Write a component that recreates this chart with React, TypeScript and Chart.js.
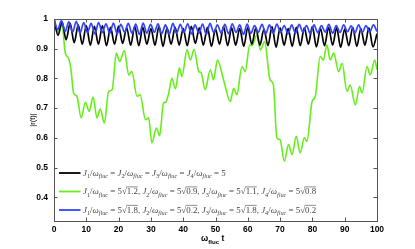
import React, { useEffect, useRef } from "react";
import { Chart, registerables } from "chart.js";
Chart.register(...registerables);

const xTicks = [0, 10, 20, 30, 40, 50, 60, 70, 80, 90, 100];
const yTicks = [0.4, 0.5, 0.6, 0.7, 0.8, 0.9, 1];
const yMin = 0.32;
const yMax = 1;

const blackT = [0,1.25,2.5,3.75,5,6.25,7.5,8.75,10,11.25,12.5,13.75,15,16.25,17.5,18.75,20,21.25,22.5,23.75,25,26.25,27.5,28.75,30,31.25,32.5,33.75,35,36.25,37.5,38.75,40,41.25,42.5,43.75,45,46.25,47.5,48.75,50,51.25,52.5,53.75,55,56.25,57.5,58.75,60,61.25,62.5,63.75,65,66.25,67.5,68.75,70,71.25,72.5,73.75,75,76.25,77.5,78.75,80,81.25,82.5,83.75,85,86.25,87.5,88.75,90,91.25,92.5,93.75,95,96.25,97.5,98.75,100];
const blackR = [1, 0.945,0.99, 0.93,0.985, 0.92,0.98, 0.915,0.978, 0.912,0.975, 0.915,0.978, 0.91,0.972, 0.915,0.976, 0.918,0.97, 0.912,0.975, 0.91,0.972, 0.915,0.968, 0.912,0.975, 0.908,0.97, 0.915,0.972, 0.912,0.968, 0.91,0.975, 0.918,0.97, 0.912,0.972, 0.908,0.966, 0.915,0.974, 0.91,0.97, 0.912,0.968, 0.908,0.972, 0.915,0.97, 0.912,0.966, 0.91,0.974, 0.905,0.97, 0.912,0.968, 0.908,0.972, 0.91,0.97, 0.915,0.974, 0.906,0.968, 0.91,0.972, 0.912,0.97, 0.905,0.966, 0.91,0.972, 0.908,0.968, 0.912,0.97, 0.906,0.95];

const greenT = [0,0.9,2.5,3.5,4.5,5.2,6.1,7.1,8.4,9.7,10.9,12.1,13.3,14.3,15.6,16.9,18,19.3,20.3,21.8,23.1,24.1,25.7,26.7,28.3,29.3,30.3,31.7,32.7,33.9,34.6,35.5,36.5,37.6,38.8,39.6,41.2,42.2,43.4,44.8,45.5,46.8,48.4,49.4,50.6,52.5,54.6,55.6,56.6,58.2,59.2,60.6,61.3,62.8,63.9,65.2,66.9,67.9,69,70,71.3,72.6,73.7,75,76.2,77.5,78.3,79.9,80.9,82.4,83.4,84.5,85.5,86.6,88.1,89.2,90.7,91.7,93.3,94.6,95.4,96.9,97.9,99.3,100];
const greenR = [1,0.957,0.98,0.885,0.868,0.835,0.75,0.74,0.667,0.72,0.689,0.737,0.667,0.697,0.65,0.756,0.762,0.885,0.857,0.894,0.812,0.823,0.74,0.745,0.661,0.667,0.583,0.633,0.607,0.717,0.72,0.75,0.8,0.765,0.835,0.806,0.896,0.862,0.898,0.823,0.82,0.762,0.829,0.795,0.862,0.795,0.722,0.767,0.745,0.84,0.823,0.913,0.91,0.946,0.896,0.924,0.795,0.78,0.6,0.594,0.521,0.577,0.544,0.605,0.549,0.6,0.588,0.722,0.74,0.874,0.862,0.913,0.862,0.885,0.823,0.851,0.756,0.778,0.711,0.773,0.751,0.84,0.812,0.862,0.829];

const blueT = [0,1.15,2.3,3.45,4.6,5.75,6.9,8.05,9.2,10.35,11.5,12.65,13.8,14.95,16.1,17.25,18.4,19.55,20.7,21.85,23,24.15,25.3,26.45,27.6,28.75,29.9,31.05,32.2,33.35,34.5,35.65,36.8,37.95,39.1,40.25,41.4,42.55,43.7,44.85,46,47.15,48.3,49.45,50.6,51.75,52.9,54.05,55.2,56.35,57.5,58.65,59.8,60.95,62.1,63.25,64.4,65.55,66.7,67.85,69,70.15,71.3,72.45,73.6,74.75,75.9,77.05,78.2,79.35,80.5,81.65,82.8,83.95,85.1,86.25,87.4,88.55,89.7,90.85,92,93.15,94.3,95.45,96.6,97.75,98.9,100];
const blueR = [1, 0.965,0.995, 0.958,0.99, 0.955,0.992, 0.952,0.988, 0.955,0.985, 0.95,0.988, 0.955,0.984, 0.952,0.986, 0.95,0.982, 0.955,0.985, 0.952,0.983, 0.948,0.986, 0.952,0.982, 0.955,0.984, 0.95,0.98, 0.948,0.985, 0.952,0.982, 0.955,0.984, 0.95,0.98, 0.952,0.983, 0.948,0.985, 0.955,0.98, 0.952,0.982, 0.95,0.984, 0.955,0.98, 0.948,0.983, 0.952,0.978, 0.955,0.982, 0.95,0.98, 0.952,0.983, 0.955,0.978, 0.95,0.98, 0.952,0.982, 0.956,0.978, 0.95,0.98, 0.954,0.978, 0.956,0.982, 0.952,0.978, 0.955,0.98, 0.957,0.977, 0.952,0.98, 0.955,0.978, 0.956,0.98, 0.958];

const seriesColors = ["#000000", "#66ee1a", "#3344ff"];
const greenRoots = ["1.2", "0.9", "1.1", "0.8"];
const blueRoots = ["1.8", "0.2", "1.8", "0.2"];

type Seg = { s: string; sub?: boolean; it?: boolean; over?: boolean };

function jPart(n: number): Seg[] {
  return [
    { s: "J", it: true },
    { s: String(n), sub: true },
    { s: "/" },
    { s: "ω", it: true },
    { s: "fluc", sub: true, it: true },
    { s: " = " },
  ];
}

function rowEqual(): Seg[] {
  const out: Seg[] = [];
  for (let i = 1; i <= 4; i++) out.push(...jPart(i));
  out.push({ s: "5" });
  return out;
}

function rowRoots(roots: string[]): Seg[] {
  const out: Seg[] = [];
  roots.forEach((r, i) => {
    out.push(...jPart(i + 1));
    out.push({ s: "5√" });
    out.push({ s: r, over: true });
    if (i < roots.length - 1) out.push({ s: ", " });
  });
  return out;
}

const legendRows: Seg[][] = [rowEqual(), rowRoots(greenRoots), rowRoots(blueRoots)];

function drawRich(ctx: CanvasRenderingContext2D, segs: Seg[], x: number, y: number, size: number, family: string) {
  for (const g of segs) {
    const fs = g.sub ? size * 0.7 : size;
    ctx.font = `${g.it ? "italic " : ""}${fs}px ${family}`;
    const dy = g.sub ? size * 0.3 : 0;
    ctx.fillText(g.s, x, y + dy);
    const w = ctx.measureText(g.s).width;
    if (g.over) {
      ctx.beginPath();
      ctx.lineWidth = 0.6;
      ctx.moveTo(x - 0.5, y - size * 0.82);
      ctx.lineTo(x + w, y - size * 0.82);
      ctx.stroke();
    }
    x += w;
  }
  return x;
}

function measureRich(ctx: CanvasRenderingContext2D, segs: Seg[], size: number, family: string, bold = false) {
  let w = 0;
  for (const g of segs) {
    const fs = g.sub ? size * 0.7 : size;
    ctx.font = `${bold ? "bold " : ""}${g.it ? "italic " : ""}${fs}px ${family}`;
    w += ctx.measureText(g.s).width;
  }
  return w;
}

const framePlugin = {
  id: "matlabFrame",
  afterDatasetsDraw(chart: any) {
    const { ctx, chartArea } = chart;
    const { left, right, top, bottom } = chartArea;
    const xs = chart.scales.x;
    const ys = chart.scales.y;
    ctx.save();
    ctx.strokeStyle = "#555";
    ctx.lineWidth = 1;
    ctx.strokeRect(Math.round(left) + 0.5, Math.round(top) + 0.5, Math.round(right - left), Math.round(bottom - top));
    ctx.beginPath();
    const tl = 3.5;
    for (const v of xTicks) {
      const px = Math.round(xs.getPixelForValue(v)) + 0.5;
      ctx.moveTo(px, bottom);
      ctx.lineTo(px, bottom - tl);
      ctx.moveTo(px, top);
      ctx.lineTo(px, top + tl);
    }
    for (const v of yTicks) {
      const py = Math.round(ys.getPixelForValue(v)) + 0.5;
      ctx.moveTo(left, py);
      ctx.lineTo(left + tl, py);
      ctx.moveTo(right, py);
      ctx.lineTo(right - tl, py);
    }
    ctx.stroke();

    // legend
    const fam = '"Liberation Serif", "DejaVu Serif", serif';
    const size = 8.9;
    const rowY = [bottom - 48, bottom - 29.5, bottom - 11];
    legendRows.forEach((segs, i) => {
      const y = rowY[i];
      ctx.strokeStyle = seriesColors[i];
      ctx.lineWidth = 1.8;
      ctx.beginPath();
      ctx.moveTo(left + 5, y);
      ctx.lineTo(left + 26.5, y);
      ctx.stroke();
      ctx.fillStyle = "#444";
      ctx.strokeStyle = "#444";
      ctx.textBaseline = "alphabetic";
      drawRich(ctx, segs, left + 29, y + size * 0.3, size, fam);
    });

    // x title
    const sans = '"Liberation Sans", Arial, sans-serif';
    const xt: Seg[] = [{ s: "ω" }, { s: "fluc", sub: true }, { s: " t" }];
    const tw = measureRich(ctx, xt, 8.5, sans, true);
    let cx = (left + right) / 2 - tw / 2 - 3;
    ctx.fillStyle = "#000";
    const by = bottom + 20;
    for (const g of xt) {
      const fs = g.sub ? 8.5 * 0.72 : 8.5;
      ctx.font = `bold ${fs}px ${sans}`;
      ctx.fillText(g.s, cx, by + (g.sub ? 3 : 0));
      cx += ctx.measureText(g.s).width;
    }

    // y title
    ctx.save();
    ctx.translate(left - 21, (top + bottom) / 2);
    ctx.rotate(-Math.PI / 2);
    ctx.textAlign = "center";
    ctx.textBaseline = "middle";
    ctx.font = `7.5px ${sans}`;
    ctx.fillText("|r(t)|", 0, 0);
    ctx.restore();
    ctx.restore();
  },
};

function pts(t: number[], r: number[]) {
  const n = Math.min(t.length, r.length);
  const out: { x: number; y: number }[] = [];
  for (let i = 0; i < n; i++) out.push({ x: t[i], y: r[i] });
  return out;
}

export default function App() {
  const ref = useRef<HTMLCanvasElement | null>(null);
  useEffect(() => {
    document.body.style.margin = "0";
    const canvas = ref.current!;
    const tickFont = { family: '"Liberation Sans", Arial, sans-serif', size: 8.5, weight: "bold" as const };
    const chart = new Chart(canvas, {
      type: "line",
      data: {
        datasets: [
          { label: "black", data: pts(blackT, blackR), borderColor: seriesColors[0], borderWidth: 1.7, pointRadius: 0, cubicInterpolationMode: "monotone", order: 1 },
          { label: "green", data: pts(greenT, greenR), borderColor: seriesColors[1], borderWidth: 1.6, pointRadius: 0, cubicInterpolationMode: "monotone", order: 2 },
          { label: "blue", data: pts(blueT, blueR), borderColor: seriesColors[2], borderWidth: 1.7, pointRadius: 0, cubicInterpolationMode: "monotone", order: 0 },
        ],
      },
      options: {
        animation: false,
        responsive: false,
        devicePixelRatio: 1,
        layout: { padding: { left: 0, right: 38, top: 19, bottom: 0 } },
        plugins: { legend: { display: false }, tooltip: { enabled: false } },
        scales: {
          x: {
            type: "linear",
            min: 0,
            max: 100,
            grid: { display: false, drawTicks: false },
            border: { display: false },
            afterBuildTicks: (s: any) => { s.ticks = xTicks.map((v) => ({ value: v })); },
            afterFit: (s: any) => { s.height = 28; },
            ticks: { color: "#000", font: tickFont, padding: 4, maxRotation: 0, autoSkip: false },
          },
          y: {
            type: "linear",
            min: yMin,
            max: yMax,
            grid: { display: false, drawTicks: false },
            border: { display: false },
            afterBuildTicks: (s: any) => { s.ticks = yTicks.map((v) => ({ value: v })); },
            afterFit: (s: any) => { s.width = 54; },
            ticks: { color: "#000", font: tickFont, padding: 6, autoSkip: false, callback: (v: any) => String(Math.round(Number(v) * 10) / 10) },
          },
        },
      },
      plugins: [framePlugin],
    } as any);
    return () => chart.destroy();
  }, []);
  return <canvas ref={ref} width={415} height={249} style={{ display: "block" }} />;
}
